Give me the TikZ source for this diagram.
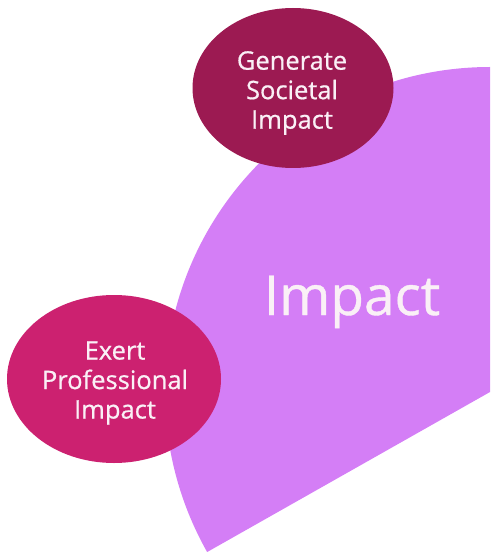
\documentclass[tikz,border=0pt]{standalone}
\usepackage{fontspec}
\setmainfont{Open Sans}
\newfontfamily\semib{Open Sans}[FakeBold=0.7]
\usetikzlibrary{shapes.geometric}
\definecolor{wedge}{HTML}{D47EF6}
\definecolor{societal}{HTML}{9C1A52}
\definecolor{professional}{HTML}{CC2170}
\definecolor{txt}{HTML}{FAF0F6}
\begin{document}
\begin{tikzpicture}[x=1pt,y=-1pt,
  bubble/.style={ellipse, inner sep=0pt, text=txt, align=center,
    font=\semib\fontsize{25.5}{29.5}\selectfont},
  bigtext/.style={text=txt, font=\semib\fontsize{55}{62}\selectfont, inner sep=0pt, anchor=base}]
\useasboundingbox (0,0) rectangle (493,556);
\coordinate (c) at (490,392);
\fill[wedge] (c) -- ++(0,-325) arc[start angle=270, end angle=150.5, radius=325] -- cycle;
\node[bubble, fill=societal, minimum width=201pt, minimum height=160pt] (genbg) at (293,88) {};
\node[bubble, fill=professional, minimum width=214pt, minimum height=168pt] (exertbg) at (114,379) {};
\node[bubble] (gen) at (292,93) {Generate\\Societal\\Impact};
\node[bubble] (exert) at (115,383) {Exert\\Professional\\Impact};
\node[bigtext] (impact) at (352,315) {Impact};
\end{tikzpicture}
\end{document}
